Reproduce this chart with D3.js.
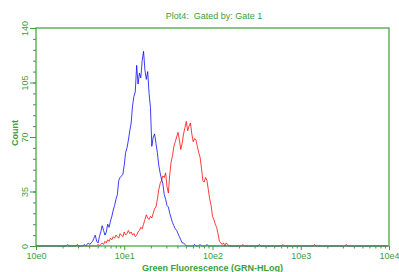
<!DOCTYPE html>
<html>
<head>
<meta charset="utf-8">
<script src="https://cdn.jsdelivr.net/npm/d3@7"></script>
<style>
  body { margin: 0; background: #fff; }
  text { font-family: "Liberation Sans", Arial, sans-serif; }
</style>
</head>
<body>
<div id="chart"></div>
<script>
// histogram data: 256 log channels over 4 decades
var nChannels = 256;
var decadeLabels = ["10e0", "10e1", "10e2", "10e3", "10e4"];
var yTicks = [0, 35, 70, 105, 140];

// blue sample, counts starting at channel 34
var blueStart = 34;
var blueCounts = [0, 1, 0, 1, 2, 1, 2, 3, 5, 7, 3, 2, 6, 9, 13, 10, 7, 9, 14, 12,
  16, 19, 23, 26, 30, 33, 42, 44, 45, 46, 52, 60, 63, 68, 74, 79, 90, 96, 99, 116,
  104, 111, 108, 119, 125, 113, 107, 112, 98, 89, 64, 70, 72, 66, 60, 52, 47, 43, 40, 33,
  30, 26, 25, 21, 18, 15, 13, 11, 10, 8, 6, 4, 2, 2, 1, 0, 0];
var blueStray = [[30, 1], [35, 1], [115, 1], [119, 1], [124, 1]];

// red sample, counts starting at channel 44
var redStart = 44;
var redCounts = [0, 1, 0, 1, 2, 1, 3, 2, 4, 3, 5, 4, 6, 5, 7, 6, 5, 8, 7, 6,
  9, 7, 8, 10, 8, 9, 7, 8, 6, 7, 9, 10, 12, 11, 14, 17, 20, 18, 17, 19,
  18, 21, 24, 25, 30, 36, 40, 42, 45, 44, 47, 38, 34, 46, 54, 58, 64, 67, 70, 73,
  68, 62, 66, 72, 76, 80, 74, 77, 79, 72, 67, 69, 68, 64, 60, 57, 50, 42, 41, 44,
  42, 36, 30, 26, 19, 17, 14, 12, 8, 3, 2, 1, 2, 0, 2, 1, 0, 0];
var redStray = [[23, 1], [150, 1], [162, 1], [179, 1], [202, 1], [225, 1]];

var green = "#3c9e3c";

// build full channel arrays
function series(start, counts, stray) {
    var arr = [];
    for (var c = 0; c < nChannels; c++) arr.push({c: c, v: 0});
    counts.forEach(function(v, i) { arr[start + i].v = v; });
    stray.forEach(function(s) { arr[s[0]].v = s[1]; });
    return arr;
}
var blue = series(blueStart, blueCounts, blueStray);
var red = series(redStart, redCounts, redStray);

var width = 399, height = 272;
var margin = {top: 28, right: 10, bottom: 26, left: 36};

var svg = d3.select("#chart").append("svg").attr("width", width).attr("height", height);

var x = d3.scaleLog().domain([1, 10000]).range([margin.left, width - margin.right]);
var y = d3.scaleLinear().domain([0, 140]).range([height - margin.bottom, margin.top]);

function chanValue(c) { return Math.pow(10, c * 4 / nChannels); }

// title (keeps the double space)
svg.append("text").attr("x", 214).attr("y", 18.5).attr("text-anchor", "middle")
    .style("font-size", "9px").style("fill", green).style("white-space", "pre")
    .text("Plot4:  Gated by: Gate 1");

// lines
var line = d3.line()
    .x(function(d) { return x(chanValue(d.c)); })
    .y(function(d) { return y(d.v); });

svg.append("path").datum(red).attr("d", line)
    .attr("fill", "none").attr("stroke", "#ff0000").attr("stroke-width", 0.9).attr("stroke-opacity", 0.85);
svg.append("path").datum(blue).attr("d", line)
    .attr("fill", "none").attr("stroke", "#0000ff").attr("stroke-width", 0.9).attr("stroke-opacity", 0.85);

// x axis ticks: majors at decades, minors at 2..9
var majorX = decadeLabels.map(function(d, i) { return Math.pow(10, i); });
var minorX = [];
for (var p = 0; p < 4; p++) for (var m = 2; m < 10; m++) minorX.push(m * Math.pow(10, p));

var xAxis = svg.append("g").attr("transform", "translate(0," + y(0) + ")");
xAxis.call(d3.axisBottom(x).tickValues(minorX).tickSize(2.5).tickFormat(""));
xAxis.append("g").call(d3.axisBottom(x).tickValues(majorX).tickSize(4).tickPadding(3)
    .tickFormat(function(d, i) { return decadeLabels[i]; }));
xAxis.selectAll("path").remove();
xAxis.selectAll("line").attr("stroke", green);
xAxis.selectAll("text").style("font-size", "9px").style("fill", green)
    .style("font-family", "'Liberation Sans', Arial, sans-serif");

// y axis ticks: majors every 35, minors every 7
var minorY = d3.range(0, 141, 7);
var yAxis = svg.append("g").attr("transform", "translate(" + margin.left + ",0)");
yAxis.call(d3.axisLeft(y).tickValues(minorY).tickSize(3).tickFormat(""));
yAxis.append("g").call(d3.axisLeft(y).tickValues(yTicks).tickSize(6).tickPadding(3));
yAxis.selectAll("path").remove();
yAxis.selectAll("line").attr("stroke", green);
yAxis.selectAll("g.tick text")
    .style("font-size", "9px").style("fill", green)
    .style("font-family", "'Liberation Sans', Arial, sans-serif")
    .attr("text-anchor", "middle").attr("dy", 0)
    .attr("transform", "translate(-8,0) rotate(-90)").attr("x", 0).attr("y", 0);

// plot frame
svg.append("rect")
    .attr("x", margin.left).attr("y", margin.top)
    .attr("width", width - margin.right - margin.left)
    .attr("height", y(0) - margin.top)
    .attr("fill", "none").attr("stroke", green).attr("stroke-width", 1.2);

// axis labels
svg.append("text").attr("x", 212.5).attr("y", 270.5).attr("text-anchor", "middle")
    .style("font-size", "9px").style("font-weight", "bold").style("fill", green)
    .text("Green Fluorescence (GRN-HLog)");
svg.append("text").attr("transform", "translate(18,133) rotate(-90)").attr("text-anchor", "middle")
    .style("font-size", "9px").style("font-weight", "bold").style("fill", green)
    .text("Count");
</script>
</body>
</html>
